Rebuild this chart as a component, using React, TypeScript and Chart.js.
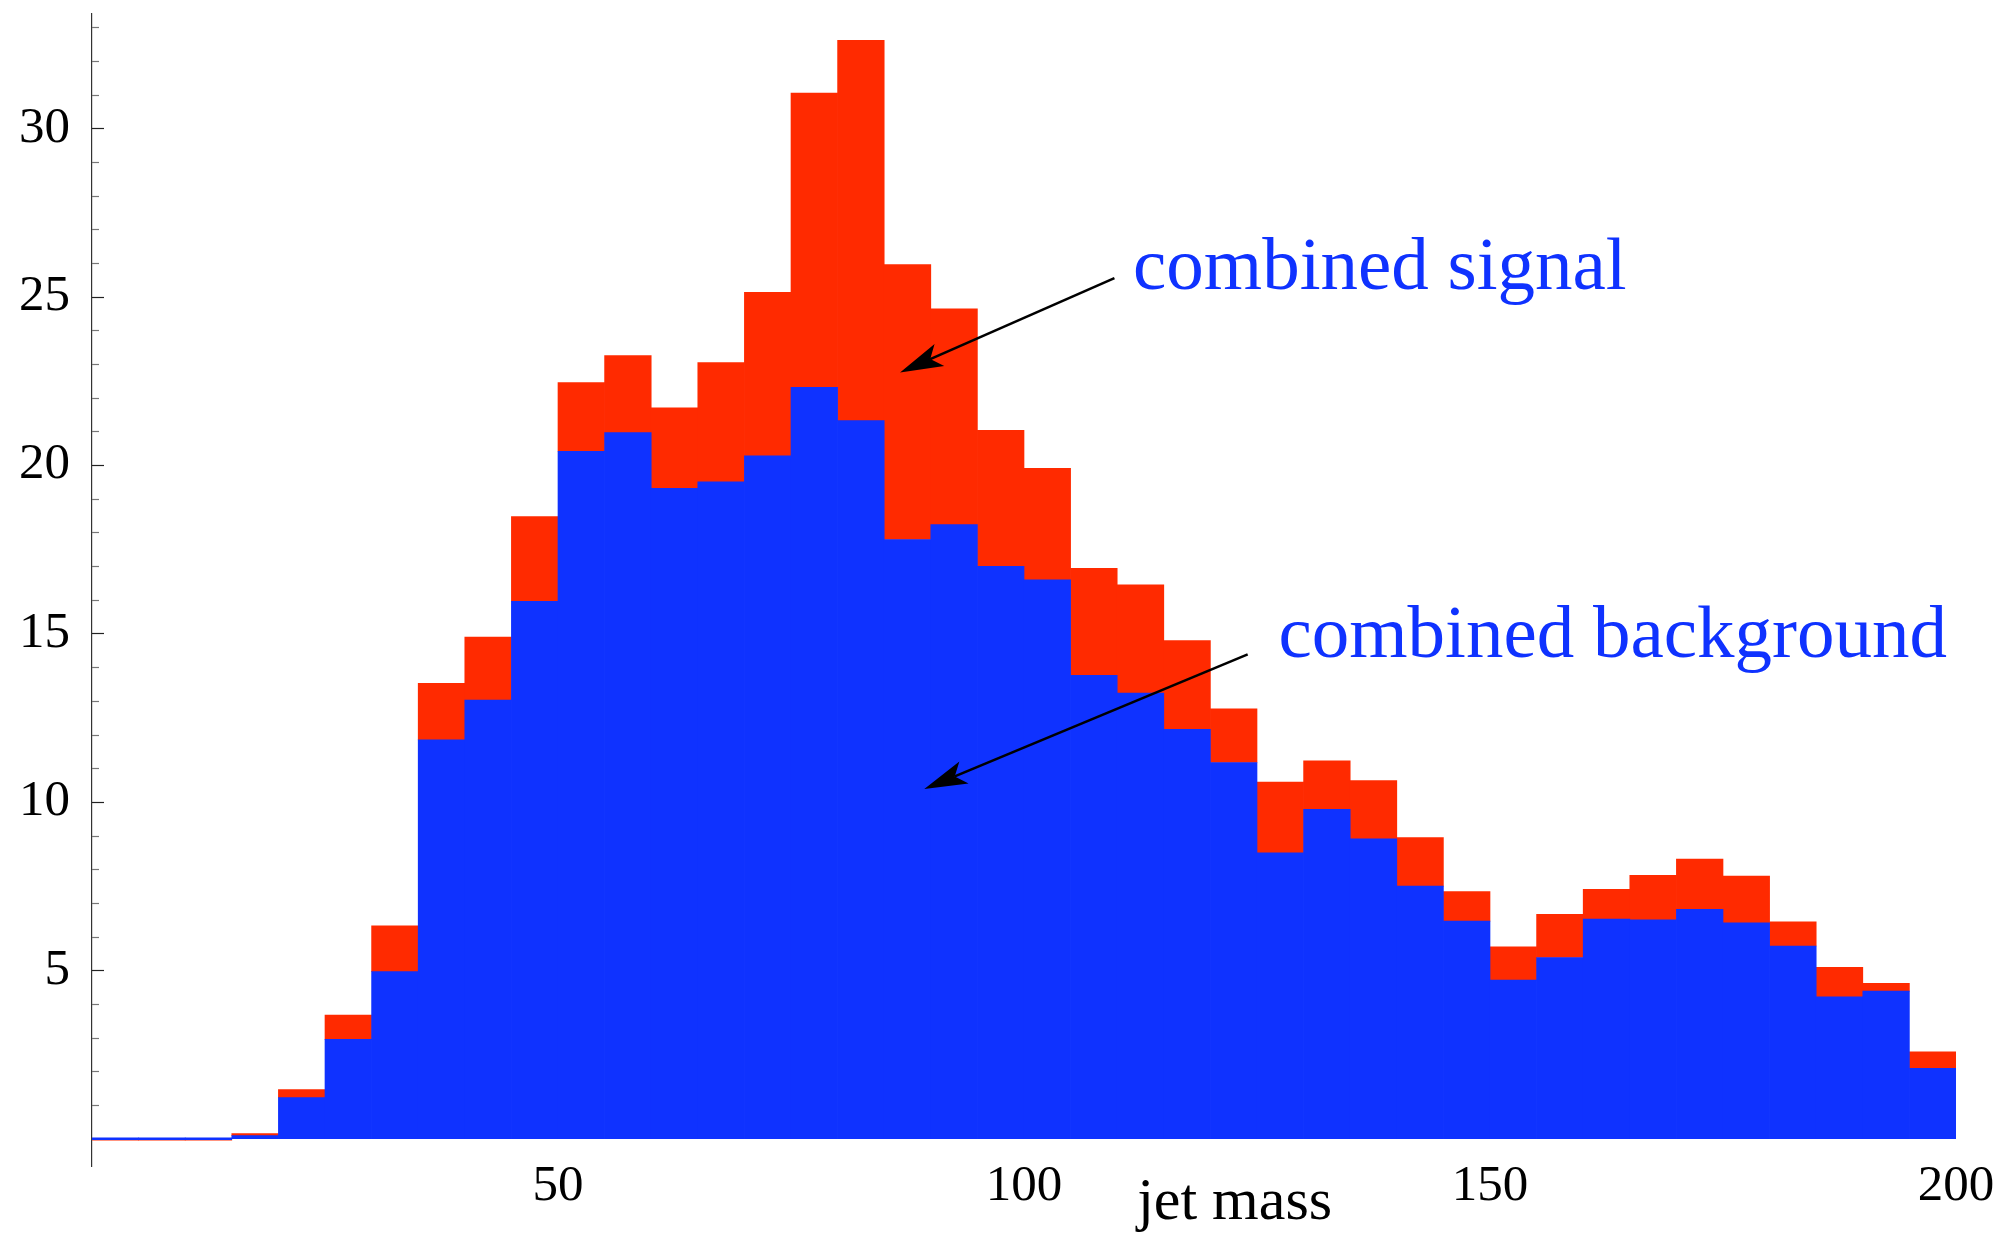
import React, { useEffect, useRef } from "react";
import { Chart, registerables } from "chart.js";

Chart.register(...registerables);

// Bin centres of the 5-unit jet-mass bins (0..200)
const binCenters = [
  2.5, 7.5, 12.5, 17.5, 22.5, 27.5, 32.5, 37.5, 42.5, 47.5,
  52.5, 57.5, 62.5, 67.5, 72.5, 77.5, 82.5, 87.5, 92.5, 97.5,
  102.5, 107.5, 112.5, 117.5, 122.5, 127.5, 132.5, 137.5, 142.5, 147.5,
  152.5, 157.5, 162.5, 167.5, 172.5, 177.5, 182.5, 187.5, 192.5, 197.5,
];

// Combined background (blue)
const background = [
  0, 0, 0, 0.09, 1.22, 2.95, 4.96, 11.84, 13.02, 15.95,
  20.41, 20.96, 19.31, 19.5, 20.27, 22.31, 21.32, 17.79, 18.23, 16.99,
  16.59, 13.76, 13.23, 12.15, 11.17, 8.49, 9.78, 8.9, 7.5, 6.46,
  4.71, 5.38, 6.52, 6.5, 6.81, 6.41, 5.72, 4.21, 4.38, 2.09,
];

// Combined signal (red), stacked on top of the background
const signal = [
  0, 0, 0, 0.06, 0.24, 0.72, 1.36, 1.68, 1.87, 2.52,
  2.04, 2.29, 2.39, 3.54, 4.86, 8.73, 11.29, 8.16, 6.41, 4.04,
  3.31, 3.17, 3.21, 2.64, 1.59, 2.1, 1.44, 1.73, 1.44, 0.88,
  0.99, 1.28, 0.88, 1.32, 1.49, 1.39, 0.72, 0.88, 0.23, 0.49,
];

const xTickLabels = [50, 100, 150, 200];
const yTickLabels = [5, 10, 15, 20, 25, 30];
const xAxisTitle = "jet mass";
const signalLabel = "combined signal";
const backgroundLabel = "combined background";

const RED = "#FF2A00";
const BLUE = "#0F32FF";
const SERIF = '"Liberation Serif", "DejaVu Serif", serif';

function drawArrow(ctx: CanvasRenderingContext2D, x0: number, y0: number, x1: number, y1: number) {
  const dx = x0 - x1;
  const dy = y0 - y1;
  const len = Math.hypot(dx, dy);
  const ux = dx / len;
  const uy = dy / len;
  const px = -uy;
  const py = ux;
  const headLen = 43;
  const half = 12;
  const notch = 33;
  ctx.strokeStyle = "#000";
  ctx.lineWidth = 2.6;
  ctx.beginPath();
  ctx.moveTo(x0, y0);
  ctx.lineTo(x1 + ux * notch, y1 + uy * notch);
  ctx.stroke();
  ctx.fillStyle = "#000";
  ctx.beginPath();
  ctx.moveTo(x1, y1);
  ctx.lineTo(x1 + ux * headLen + px * half, y1 + uy * headLen + py * half);
  ctx.lineTo(x1 + ux * notch, y1 + uy * notch);
  ctx.lineTo(x1 + ux * headLen - px * half, y1 + uy * headLen - py * half);
  ctx.closePath();
  ctx.fill();
}

const overlayPlugin = {
  id: "overlay",
  afterDraw(chart: any) {
    const { ctx, scales, chartArea } = chart;
    const xs = scales.x;
    const ys = scales.y;
    ctx.save();

    // inward tick marks on the y axis
    const ax = xs.getPixelForValue(0);
    for (let v = 1; v <= Math.floor(ys.max); v++) {
      const py = Math.round(ys.getPixelForValue(v)) + 0.5;
      const major = v % 5 === 0;
      ctx.strokeStyle = major ? "#222" : "#777";
      ctx.lineWidth = 1.2;
      ctx.beginPath();
      ctx.moveTo(ax, py);
      ctx.lineTo(ax + (major ? 12 : 7), py);
      ctx.stroke();
    }

    // annotation arrows
    drawArrow(
      ctx,
      xs.getPixelForValue(109.7), ys.getPixelForValue(25.55),
      xs.getPixelForValue(86.7), ys.getPixelForValue(22.75)
    );
    drawArrow(
      ctx,
      xs.getPixelForValue(124.0), ys.getPixelForValue(14.38),
      xs.getPixelForValue(89.3), ys.getPixelForValue(10.38)
    );

    // annotation texts
    ctx.fillStyle = BLUE;
    ctx.font = `75px ${SERIF}`;
    ctx.textAlign = "left";
    ctx.textBaseline = "alphabetic";
    ctx.fillText(signalLabel, xs.getPixelForValue(111.7), ys.getPixelForValue(25.22));
    ctx.fillText(backgroundLabel, xs.getPixelForValue(127.3), ys.getPixelForValue(14.31));

    // axis label
    ctx.fillStyle = "#000";
    ctx.font = `60px ${SERIF}`;
    ctx.textAlign = "center";
    ctx.fillText(xAxisTitle, xs.getPixelForValue(122.6), chartArea.bottom + 53);

    ctx.restore();
  },
};

export default function App() {
  const canvasRef = useRef<HTMLCanvasElement | null>(null);

  useEffect(() => {
    const canvas = canvasRef.current;
    if (!canvas) return;
    const chart = new Chart(canvas, {
      type: "bar",
      data: {
        datasets: [
          {
            label: backgroundLabel,
            data: binCenters.map((x, i) => ({ x, y: background[i] })),
            backgroundColor: BLUE,
            borderWidth: 0,
            minBarLength: 2,
            barPercentage: 1,
            categoryPercentage: 1,
          },
          {
            label: signalLabel,
            data: binCenters.map((x, i) => ({ x, y: signal[i] })),
            backgroundColor: RED,
            borderWidth: 0,
            barPercentage: 1,
            categoryPercentage: 1,
          },
        ],
      },
      options: {
        responsive: false,
        animation: false,
        devicePixelRatio: 1,
        layout: { padding: { top: 14, right: 50, left: 0, bottom: 0 } },
        plugins: {
          legend: { display: false },
          tooltip: { enabled: false },
          title: { display: false },
        },
        scales: {
          x: {
            type: "linear",
            stacked: true,
            min: 0,
            max: 200,
            offset: false,
            grid: { display: false, drawTicks: false },
            border: { display: false },
            afterBuildTicks: (s: any) => {
              s.ticks = xTickLabels.map((v) => ({ value: v }));
            },
            afterFit: (s: any) => {
              s.height = 68;
              s.paddingLeft = 0;
              s.paddingRight = 0;
            },
            ticks: {
              autoSkip: false,
              maxRotation: 0,
              padding: -10,
              color: "#000",
              font: { family: SERIF, size: 51 },
              callback: (v: any) => String(v),
            },
          },
          y: {
            type: "linear",
            stacked: true,
            min: -0.81,
            max: 33.39,
            grid: { display: false, drawTicks: false },
            border: { display: true, color: "#333", width: 1.2 },
            afterBuildTicks: (s: any) => {
              s.ticks = yTickLabels.map((v) => ({ value: v }));
            },
            afterFit: (s: any) => {
              s.width = 92;
              s.paddingTop = 0;
              s.paddingBottom = 0;
            },
            ticks: {
              autoSkip: false,
              padding: 22,
              color: "#000",
              font: { family: SERIF, size: 51 },
              callback: (v: any) => String(v),
            },
          },
        },
      },
      plugins: [overlayPlugin],
    });
    return () => chart.destroy();
  }, []);

  return (
    <div style={{ position: "fixed", left: 0, top: 0, width: 2006, height: 1234, background: "#fff" }}>
      <canvas ref={canvasRef} width={2006} height={1234} />
    </div>
  );
}
